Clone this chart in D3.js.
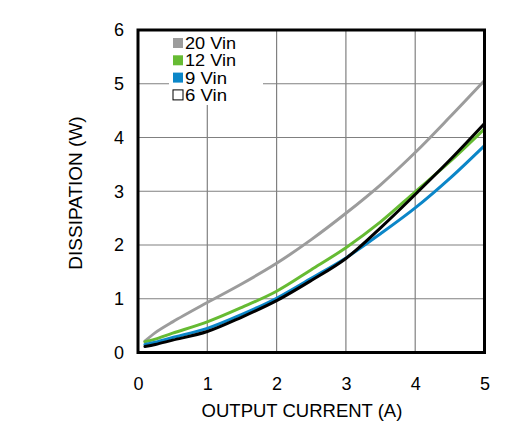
<!DOCTYPE html>
<html>
<head>
<meta charset="utf-8">
<script src="https://cdn.jsdelivr.net/npm/d3@7"></script>
<style>
  html, body { margin: 0; padding: 0; background: #fff; }
  svg { display: block; }
  text { font-family: "Liberation Sans", Arial, sans-serif; fill: #000; }
</style>
</head>
<body>
<svg id="chart" width="523" height="432"></svg>
<script>
// Output current (A) sample points
var current = [0.1, 0.25, 0.5, 1, 1.5, 2, 2.5, 3, 3.5, 4, 4.5, 5];

// Dissipation (W) per input voltage
var vin20 = [0.21, 0.37, 0.57, 0.93, 1.28, 1.66, 2.1, 2.59, 3.12, 3.72, 4.38, 5.06];
var vin12 = [0.2, 0.25, 0.36, 0.57, 0.84, 1.14, 1.54, 1.95, 2.43, 2.99, 3.55, 4.16];
var vin9  = [0.15, 0.19, 0.28, 0.45, 0.71, 1.01, 1.38, 1.76, 2.21, 2.69, 3.24, 3.85];
var vin6  = [0.11, 0.15, 0.23, 0.39, 0.66, 0.965, 1.34, 1.75, 2.32, 2.94, 3.58, 4.26];

var seriesNames = ['20 Vin', '12 Vin', '9 Vin', '6 Vin'];
var seriesColors = ['#9c9c9c', '#66bb33', '#0b86c8', '#000000'];
var xTicks = [0, 1, 2, 3, 4, 5];
var yTicks = [0, 1, 2, 3, 4, 5, 6];

(function () {
  'use strict';

  var svg = d3.select('#chart');
  var left = 138, right = 484.5, top = 30, bottom = 352.5;

  var x = d3.scaleLinear().domain([0, 5]).range([left, right]);
  var y = d3.scaleLinear().domain([0, 6]).range([bottom, top]);

  // grid
  var grid = svg.append('g').attr('stroke', '#808080').attr('stroke-width', 1.2);
  grid.selectAll('line.v').data(xTicks.slice(1, -1)).join('line')
    .attr('x1', function (d) { return x(d); }).attr('x2', function (d) { return x(d); })
    .attr('y1', top).attr('y2', bottom);
  grid.selectAll('line.h').data(yTicks.slice(1, -1)).join('line')
    .attr('y1', function (d) { return y(d); }).attr('y2', function (d) { return y(d); })
    .attr('x1', left).attr('x2', right);

  // legend backdrop hides the grid behind it
  svg.append('rect')
    .attr('x', 169).attr('y', top + 1).attr('width', 94).attr('height', 74)
    .attr('fill', '#fff');

  // curves
  var series = [vin20, vin12, vin9, vin6];
  var line = d3.line()
    .x(function (d, i) { return x(current[i]); })
    .y(function (d) { return y(d); })
    .curve(d3.curveCatmullRom.alpha(0.5));

  svg.append('g').selectAll('path').data(series).join('path')
    .attr('fill', 'none')
    .attr('stroke', function (d, i) { return seriesColors[i]; })
    .attr('stroke-width', 3)
    .attr('stroke-linecap', 'round')
    .attr('d', line);

  // frame
  svg.append('rect')
    .attr('x', left).attr('y', top)
    .attr('width', right - left).attr('height', bottom - top)
    .attr('fill', 'none').attr('stroke', '#000').attr('stroke-width', 3);

  // axes (labels only, frame drawn above)
  var fmt = d3.format('d');
  var xAxis = svg.append('g')
    .attr('transform', 'translate(0,' + bottom + ')')
    .call(d3.axisBottom(x).tickValues(xTicks).tickFormat(fmt).tickSize(0).tickPadding(25));
  var yAxis = svg.append('g')
    .attr('transform', 'translate(' + left + ',0)')
    .call(d3.axisLeft(y).tickValues(yTicks).tickFormat(fmt).tickSize(0).tickPadding(14));
  [xAxis, yAxis].forEach(function (a) {
    a.select('.domain').remove();
    a.selectAll('text').attr('font-size', 18)
      .attr('font-family', '"Liberation Sans", Arial, sans-serif');
  });

  svg.append('text')
    .attr('x', 302).attr('y', 417)
    .attr('text-anchor', 'middle').attr('font-size', 18.5)
    .text('OUTPUT CURRENT (A)');

  svg.append('text')
    .attr('transform', 'translate(82,' + 193 + ') rotate(-90)')
    .attr('text-anchor', 'middle').attr('font-size', 19)
    .text('DISSIPATION (W)');

  // legend
  var legend = svg.append('g');
  var rows = legend.selectAll('g').data(seriesNames).join('g')
    .attr('transform', function (d, i) { return 'translate(173,' + (43 + i * 17.3) + ')'; });
  rows.append('rect')
    .attr('x', 0).attr('y', -5).attr('width', 10).attr('height', 10)
    .attr('fill', function (d, i) { return i === 3 ? '#fff' : seriesColors[i]; })
    .attr('stroke', function (d, i) { return i === 3 ? '#000' : 'none'; })
    .attr('stroke-width', 1);
  rows.append('text')
    .attr('x', 12).attr('y', 6)
    .attr('font-size', 16)
    .attr('textLength', 50)
    .attr('lengthAdjust', 'spacingAndGlyphs')
    .text(function (d) { return d; })
    .attr('textLength', function (d) { return d.length === 6 ? 51 : 42; });
})();
</script>
</body>
</html>
